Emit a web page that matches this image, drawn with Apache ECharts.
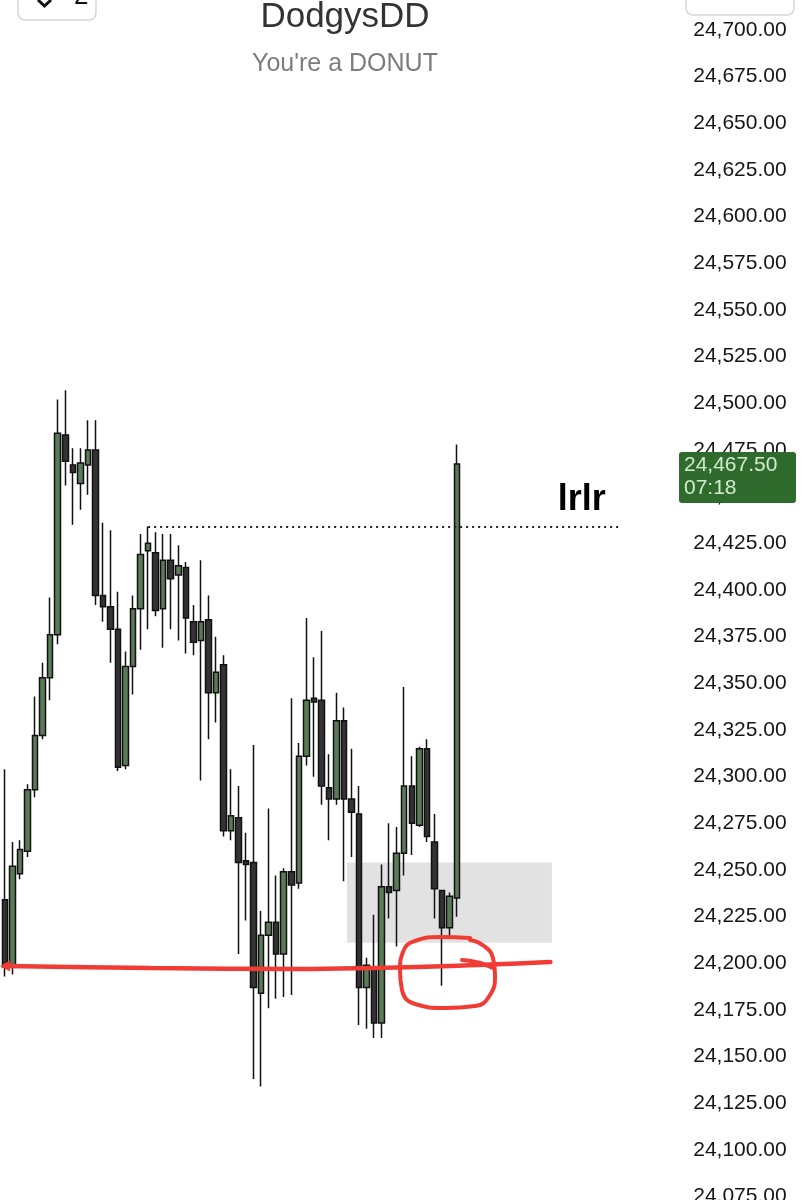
<!DOCTYPE html>
<html><head><meta charset="utf-8">
<script src="https://cdn.jsdelivr.net/npm/echarts@6/dist/echarts.min.js"></script>
<style>html,body{margin:0;padding:0;background:#fff}#c{width:803px;height:1200px}</style>
</head><body><div id="c"></div>
<script>
// ---- data ----
const opens  = [24234,24198,24248,24260,24293,24322,24353,24376,24483,24467,24457,24467,24475,24397,24391,24379,24306,24359,24390,24421,24420,24390,24416,24408,24412,24383,24373,24384,24345,24360,24271,24278,24255,24254,24184,24215,24222,24205,24249,24243,24311,24342,24341,24294,24288,24330,24288,24280,24187,24198,24168,24241,24239,24259,24295,24274,24315,24265,24239,24219,24235];
const closes = [24198,24252,24261,24293,24322,24353,24376,24484,24469,24463,24468,24475,24397,24391,24379,24305,24359,24390,24419,24425,24389,24416,24406,24413,24385,24372,24383,24345,24356,24271,24279,24254,24253,24187,24215,24222,24205,24249,24242,24311,24341,24340,24295,24288,24330,24288,24281,24187,24199,24168,24241,24238,24259,24295,24275,24315,24268,24240,24219,24236,24467.5];
const lows   = [24193,24194,24245,24257,24289,24320,24341,24371,24456,24435,24443,24451,24392,24383,24361,24303,24304,24344,24368,24379,24386,24369,24379,24373,24366,24365,24298,24320,24329,24268,24266,24205,24223,24138,24134,24176,24181,24182,24183,24240,24306,24300,24285,24266,24285,24244,24257,24167,24165,24160,24160,24224,24209,24247,24258,24273,24265,24224,24188,24214,24225];
const highs  = [24304,24265,24266,24296,24343,24361,24396,24502,24507,24476,24476,24491,24491,24436,24432,24399,24367,24397,24430,24434,24431,24430,24430,24424,24415,24392,24416,24397,24375,24365,24304,24295,24270,24317,24228,24283,24247,24251,24342,24318,24385,24364,24378,24312,24345,24337,24315,24295,24203,24226,24253,24275,24273,24348,24311,24316,24320,24280,24239,24238,24478];
const slotCount = 90; // candle slots across the plot (incl. empty future slots)
const categories = Array.from({length: slotCount}, (_, i) => 'bar ' + (i + 1));

const yMin = 24075, yMax = 24712.5, yStep = 25;

const levelPrice = 24434, levelFrom = 19, levelTo = 81.6, levelLabel = 'lrlr';
const zoneTop = 24254, zoneBottom = 24211, zoneFrom = 45.4, zoneTo = 72.6;

const redLine = [[0,24198.6],[19.3,24197.5],[39.2,24197.0],[59.1,24198.6],[72.4,24200.7]];
const redLoop = [[61.73,24213.6],[57.75,24214.1],[54.43,24212.0],[52.83,24206.1],[52.44,24196.4],[52.70,24185.7],[54.43,24178.2],[58.41,24176.1],[62.39,24177.1],[64.38,24183.0],[65.05,24193.8],[64.78,24202.9],[63.59,24209.3],[61.73,24212.5]];
const redHook = [[60.67,24201.8],[63.1,24200.2],[64.78,24197.5]];

const lastPrice = 24467.5, lastTime = '07:18';
const titleText = 'DodgysDD', subtitleText = "You're a DONUT";

// ---- chart ----
const FONT = 'Liberation Sans, Arial, sans-serif';
const RED = '#f03c35';
const chart = echarts.init(document.getElementById('c'), null, {renderer: 'canvas'});
const candles = opens.map((o, i) => [o, closes[i], lows[i], highs[i]]);

chart.setOption({
  animation: false,
  backgroundColor: '#ffffff',
  title: {
    text: titleText, subtext: subtitleText,
    left: 340, top: -5, textAlign: 'center', itemGap: 17,
    textStyle: {fontSize: 35, fontWeight: 'normal', color: '#333333', fontFamily: FONT},
    subtextStyle: {fontSize: 25, color: '#7d7d7d', fontFamily: FONT}
  },
  grid: {left: 1.23, right: 123.8, top: 6.67, bottom: 3.33, containLabel: false, outerBoundsMode: 'none'},
  xAxis: [
    {type: 'category', data: categories, show: false, boundaryGap: true},
    {type: 'value', min: -0.5, max: slotCount - 0.5, show: false}
  ],
  yAxis: {
    type: 'value', position: 'right', min: yMin, max: yMax, interval: yStep, scale: true,
    splitLine: {show: false}, axisLine: {show: false}, axisTick: {show: false},
    axisLabel: {
      margin: 14, fontSize: 21, color: '#151515', fontFamily: FONT,
      formatter: v => (Math.abs(v % yStep) < 1e-6) ? v.toLocaleString('en-US', {minimumFractionDigits: 2, maximumFractionDigits: 2}) : ''
    }
  },
  series: [
    {
      type: 'line', xAxisIndex: 1, data: [], z: 1, silent: true,
      markArea: {silent: true, itemStyle: {color: '#e2e2e2'},
        data: [[{coord: [zoneFrom, zoneTop]}, {coord: [zoneTo, zoneBottom]}]]}
    },
    {
      type: 'candlestick', xAxisIndex: 0, data: candles, barWidth: 6, z: 2,
      itemStyle: {color: '#5b7a57', color0: '#333333', borderColor: '#111111', borderColor0: '#111111', borderWidth: 1.5}
    },
    {
      type: 'line', xAxisIndex: 1, data: [], z: 3, silent: true,
      markLine: {
        silent: true, symbol: 'none',
        lineStyle: {type: [2, 4], width: 2, color: '#222222'},
        label: {show: true, position: 'insideEndTop', formatter: levelLabel, fontSize: 36, fontWeight: 'bold',
          color: '#000', fontFamily: FONT, distance: 8, padding: [0, 6, 0, 0]},
        emphasis: {disabled: true},
        data: [[{coord: [levelFrom, levelPrice]}, {coord: [levelTo, levelPrice]}]]
      }
    },
    {
      type: 'line', xAxisIndex: 1, z: 4, silent: true, smooth: 0.3, symbol: 'none', showSymbol: true,
      lineStyle: {color: RED, width: 4.5, cap: 'round'},
      data: redLine.map((p, i) => i === 0
        ? {value: p, symbol: 'triangle', symbolRotate: 90, symbolSize: [11, 10], itemStyle: {color: RED}}
        : {value: p})
    },
    {
      type: 'line', xAxisIndex: 1, z: 4, silent: true, smooth: 0.5, symbol: 'none',
      lineStyle: {color: RED, width: 4, cap: 'round', join: 'round'}, data: redLoop
    },
    {
      type: 'line', xAxisIndex: 1, z: 4, silent: true, smooth: 0.4, symbol: 'none',
      lineStyle: {color: RED, width: 4, cap: 'round'}, data: redHook
    }
  ]
});

const py = chart.convertToPixel({yAxisIndex: 0}, lastPrice);
chart.setOption({
  graphic: [
    {type: 'rect', z: 100, shape: {x: 679, y: py - 12, width: 117, height: 51, r: 3}, style: {fill: '#2e6b2c'}},
    {type: 'text', z: 101, x: 684, y: py + 1, style: {text: lastPrice.toLocaleString('en-US', {minimumFractionDigits: 2}), fill: '#d3ebcf', fontSize: 21, fontFamily: FONT, verticalAlign: 'middle'}},
    {type: 'text', z: 101, x: 684, y: py + 24, style: {text: lastTime, fill: '#d3ebcf', fontSize: 21, fontFamily: FONT, verticalAlign: 'middle'}},
    {type: 'rect', z: 100, shape: {x: 686, y: -12, width: 108, height: 27, r: 7}, style: {fill: '#fff', stroke: '#d6d6d6', lineWidth: 1.5}},
    {type: 'rect', z: 100, shape: {x: 18, y: -12, width: 78, height: 32, r: 7}, style: {fill: '#fff', stroke: '#d6d6d6', lineWidth: 1.5}},
    {type: 'polyline', z: 101, shape: {points: [[38, 0], [44.5, 6], [51, 0]]}, style: {stroke: '#111', lineWidth: 3, fill: null}},
    {type: 'text', z: 101, x: 74, y: 10, style: {text: '2', fill: '#111', fontSize: 26, fontFamily: FONT, verticalAlign: 'bottom'}}
  ]
});
</script></body></html>
